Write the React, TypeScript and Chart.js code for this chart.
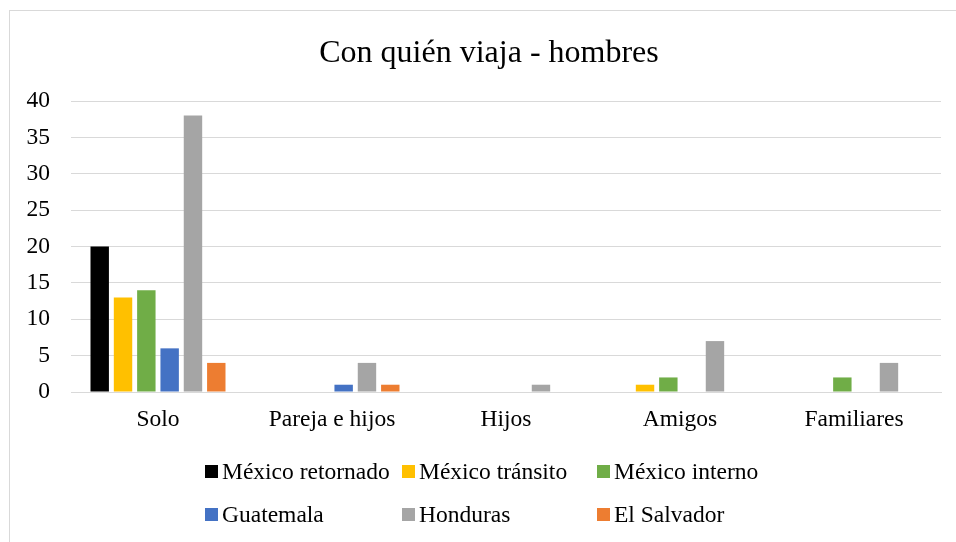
import React, { useEffect, useRef } from "react";
import { Chart, registerables } from "chart.js";

Chart.register(...registerables);

const title = "Con quién viaja - hombres";
const categories = ["Solo", "Pareja e hijos", "Hijos", "Amigos", "Familiares"];
const seriesNames = ["México retornado", "México tránsito", "México interno", "Guatemala", "Honduras", "El Salvador"];
const mexicoRetornado = [20, 0, 0, 0, 0];
const mexicoTransito = [13, 0, 0, 1, 0];
const mexicoInterno = [14, 0, 0, 2, 2];
const guatemala = [6, 1, 0, 0, 0];
const honduras = [38, 4, 1, 7, 4];
const elSalvador = [4, 1, 0, 0, 0];
const yTicks = [0, 5, 10, 15, 20, 25, 30, 35, 40];
const colors = ["#000000", "#FFC000", "#70AD47", "#4472C4", "#A5A5A5", "#ED7D31"];

const FONT = "'Liberation Serif', 'Times New Roman', serif";

export default function App() {
  const ref = useRef<HTMLCanvasElement | null>(null);
  useEffect(() => {
    if (!ref.current) return;
    const values = [mexicoRetornado, mexicoTransito, mexicoInterno, guatemala, honduras, elSalvador];
    const chart = new Chart(ref.current, {
      type: "bar",
      data: {
        labels: categories,
        datasets: seriesNames.map((name, i) => ({
          label: name,
          data: values[i],
          backgroundColor: colors[i],
          borderWidth: 0,
          categoryPercentage: 0.804,
          barPercentage: 0.79,
        })),
      },
      options: {
        animation: false,
        responsive: false,
        maintainAspectRatio: false,
        layout: { padding: { left: 0, right: 15, top: 101, bottom: 108.4 } },
        plugins: {
          legend: { display: false },
          tooltip: { enabled: false },
          title: { display: false },
        },
        scales: {
          x: {
            afterFit: (scale: any) => {
              scale.height = 41.6;
            },
            grid: { display: false, drawTicks: false },
            border: { display: true, color: "#d9d9d9", width: 1 },
            ticks: { color: "#000000", font: { family: FONT, size: 23.5, lineHeight: 1.2 }, padding: 14, maxRotation: 0, autoSkip: false },
          },
          y: {
            min: 0,
            max: 40,
            afterBuildTicks: (scale: any) => {
              scale.ticks = yTicks.map((v) => ({ value: v }));
            },
            afterFit: (scale: any) => {
              scale.width = 71;
            },
            grid: { color: "#d9d9d9", lineWidth: 1, drawTicks: false },
            border: { display: false },
            ticks: { color: "#000000", font: { family: FONT, size: 23.5, lineHeight: 1.2 }, padding: 21 },
          },
        },
      },
    });
    return () => chart.destroy();
  }, []);

  const legendCols = [205, 402, 597];
  const legendRows = [471, 514];

  return (
    <div style={{ position: "fixed", left: 0, top: 0, width: 956, height: 542, overflow: "hidden", background: "#fff" }}>
      <div style={{ position: "absolute", left: 9, top: 10, width: 960, height: 540, border: "1px solid #d9d9d9", boxSizing: "border-box" }} />
      <canvas ref={ref} width={956} height={542} style={{ position: "absolute", left: 0, top: 0, width: 956, height: 542 }} />
      <div style={{ position: "absolute", left: 0, top: 32, width: 978, textAlign: "center", fontFamily: FONT, fontSize: 32, lineHeight: "38.4px", color: "#000", whiteSpace: "nowrap" }}>
        {title}
      </div>
      {seriesNames.map((name, i) => {
        const col = i % 3;
        const row = Math.floor(i / 3);
        const cy = legendRows[row];
        return (
          <div key={name} style={{ position: "absolute", left: legendCols[col], top: cy - 15, height: 30, display: "flex", alignItems: "center", whiteSpace: "nowrap" }}>
            <span style={{ display: "inline-block", width: 13, height: 13, background: colors[i], marginRight: 4 }} />
            <span style={{ fontFamily: FONT, fontSize: 23.5, lineHeight: "30px", color: "#000" }}>{name}</span>
          </div>
        );
      })}
    </div>
  );
}
